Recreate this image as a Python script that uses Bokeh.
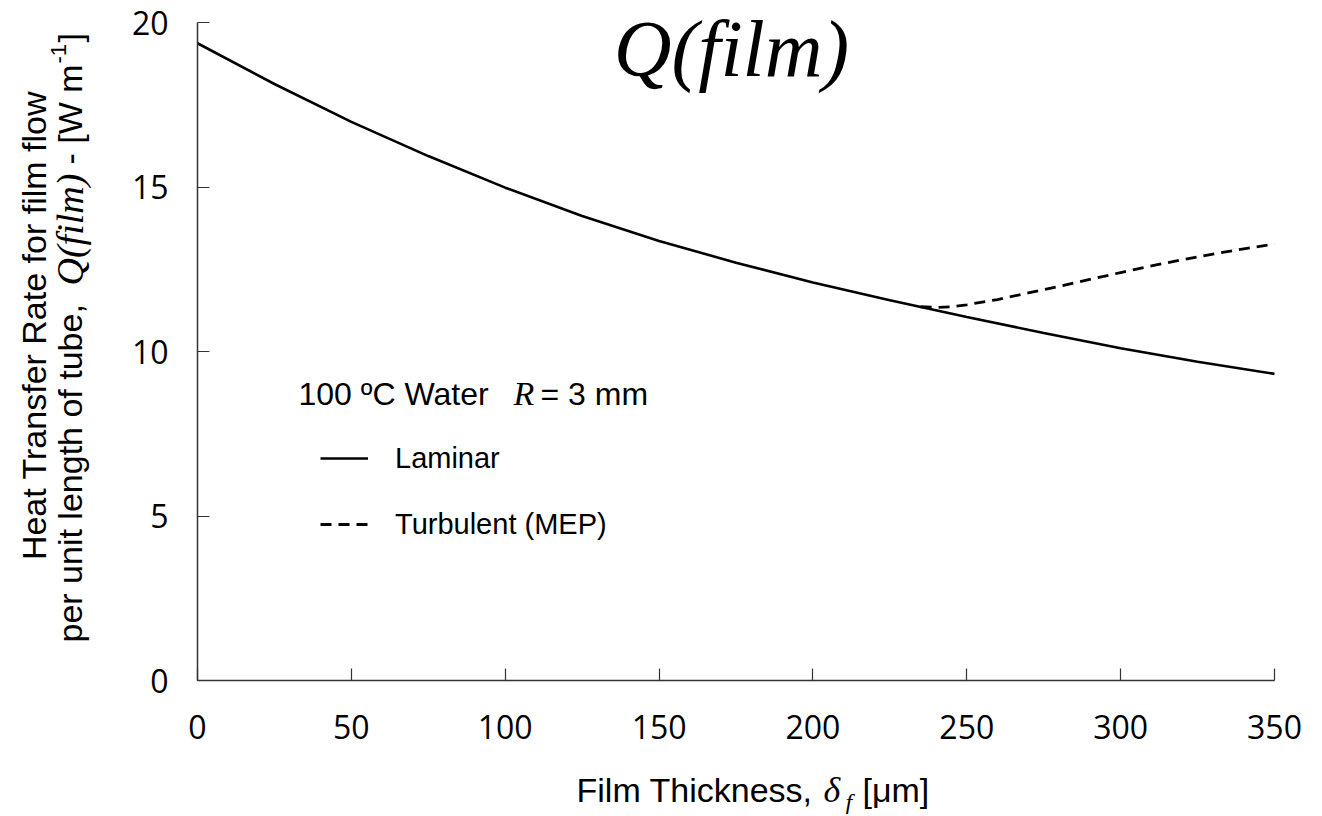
import math
from bokeh.plotting import figure
from bokeh.models import Range1d, FixedTicker, Label, Legend, LegendItem, LinearAxis
from bokeh.embed import file_html
from bokeh.resources import INLINE

# ---- data ----
laminar_x = [0, 25, 50, 75, 100, 125, 150, 175, 200, 225, 250, 275, 300, 325, 350]
laminar_q = [19.37, 18.13, 16.98, 15.94, 14.98, 14.12, 13.36, 12.70, 12.10, 11.56,
             11.05, 10.56, 10.10, 9.69, 9.32]

turbulent_x = [235, 240, 245, 250, 260, 270, 280, 290, 300, 310, 320, 330, 340, 350]
turbulent_q = [11.36, 11.34, 11.36, 11.42, 11.58, 11.78, 11.98, 12.19, 12.40, 12.60,
               12.79, 12.96, 13.12, 13.27]

x_ticks = [0, 50, 100, 150, 200, 250, 300, 350]
y_ticks = [0, 5, 10, 15, 20]
series_names = ["Laminar", "Turbulent (MEP)"]

# ---- layout: the frame fills the whole canvas; axes are pinned at x=0 / y=0 ----
W, H = 1312, 814
X0_PX, X350_PX = 197, 1274     # page pixels of x=0 and x=350
Y0_PX, Y20_PX = 680, 22        # page pixels of y=0 and y=20
sx = (X350_PX - X0_PX) / 350.0
sy = (Y0_PX - Y20_PX) / 20.0

p = figure(width=W, height=H, output_backend="svg", toolbar_location=None, title=None,
           x_axis_location=None, y_axis_location=None,
           x_range=Range1d(-X0_PX / sx, (W - X0_PX) / sx),
           y_range=Range1d(-(H - Y0_PX) / sy, Y0_PX / sy),
           min_border_left=0, min_border_right=0, min_border_top=0, min_border_bottom=0)
p.outline_line_color = None
p.background_fill_color = "white"
p.border_fill_color = "white"
p.grid.visible = False

xaxis = LinearAxis(fixed_location=0, bounds=(0, 350), ticker=FixedTicker(ticks=x_ticks, minor_ticks=[]))
yaxis = LinearAxis(fixed_location=0, bounds=(0, 20), ticker=FixedTicker(ticks=y_ticks, minor_ticks=[]))
for ax in (xaxis, yaxis):
    ax.axis_line_color = "#333333"
    ax.axis_line_width = 1.5
    ax.major_tick_line_color = "#333333"
    ax.major_tick_line_width = 1.2
    ax.major_tick_in = 12
    ax.major_tick_out = 0
    ax.minor_tick_line_color = None
    ax.major_label_text_font = "Open Sans"
    ax.major_label_text_font_size = "32px"
    ax.major_label_text_color = "black"
xaxis.major_label_standoff = 34
yaxis.major_label_standoff = 29
p.add_layout(xaxis, "below")
p.add_layout(yaxis, "left")

r1 = p.line(laminar_x, laminar_q, line_color="black", line_width=2.6)
r2 = p.line(turbulent_x, turbulent_q, line_color="black", line_width=2.8, line_dash="11 7")

legend = Legend(items=[LegendItem(label=series_names[0], renderers=[r1]),
                       LegendItem(label=series_names[1], renderers=[r2])],
                location=(320, H - 544), orientation="vertical",
                glyph_width=48, glyph_height=40, label_height=40, label_standoff=27,
                spacing=26, padding=0, margin=0,
                border_line_color=None, background_fill_alpha=0,
                label_text_font="Liberation Sans", label_text_font_size="29px",
                label_text_color="black")
p.add_layout(legend)


def lab(text, px, py, font="Liberation Sans", size=34, style="normal", angle=0.0,
        align="left"):
    # px, py: page pixels of the text's anchor (vertical middle of the line)
    p.add_layout(Label(x=px, y=H - py, x_units="screen", y_units="screen",
                       text=text, text_font=font, text_font_size=f"{size}px",
                       text_font_style=style, text_align=align, text_baseline="middle",
                       angle=angle, text_color="black"))


# title
lab("Q(film)", 731, 48, font="Liberation Serif", size=80, style="italic", align="center")

# legend header
lab("100 ºC Water", 298, 393, size=32)
lab("R", 513, 393, font="Liberation Serif", size=34, style="italic")
lab("= 3 mm", 540, 393, size=32)

# x axis title
lab("Film Thickness,", 576, 789)
lab("δ", 823, 789, font="Liberation Serif", size=36, style="italic")
lab("f", 845, 801, font="Liberation Serif", size=24, style="italic")
lab("[μm]", 862, 789)

# y axis title (rotated, reading upwards)
A = math.pi / 2
lab("Heat Transfer Rate for film flow", 33, 325, angle=A, align="center")
lab("per unit length of tube,", 69, 642, angle=A)
lab("Q(film)", 69, 285, font="Liberation Serif", size=38, style="italic", angle=A)
lab("- [W m", 69, 164, angle=A)
lab("-1", 58, 63, size=22, angle=A)
lab("]", 69, 42, angle=A)

open("out.html", "w").write(file_html(p, INLINE))
